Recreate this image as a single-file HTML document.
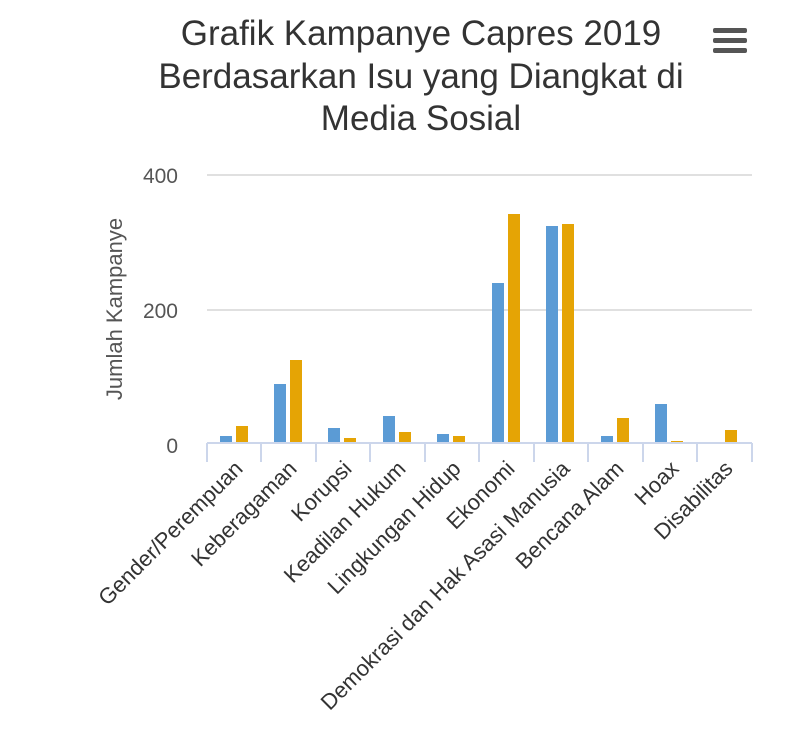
<!DOCTYPE html><html><head><style>body{margin:0;background:#fff}</style></head><body>
<svg width="787" height="734" xmlns="http://www.w3.org/2000/svg" font-family="Liberation Sans, sans-serif">
<g font-size="35" fill="#333" text-anchor="middle">
<text x="421" y="45">Grafik Kampanye Capres 2019</text>
<text x="421" y="88">Berdasarkan Isu yang Diangkat di</text>
<text x="421" y="130">Media Sosial</text></g>
<g fill="#555"><rect x="713" y="28" width="34" height="5" rx="2"/><rect x="713" y="38" width="34" height="5" rx="2"/><rect x="713" y="48" width="34" height="5" rx="2"/></g>
<g stroke="#e0e0e0" stroke-width="2"><line x1="207" y1="175" x2="752" y2="175"/><line x1="207" y1="310" x2="752" y2="310"/></g>
<g font-size="21" fill="#555" text-anchor="end"><text x="178" y="183">400</text><text x="178" y="318">200</text><text x="178" y="453">0</text></g>
<text transform="translate(122,309) rotate(-90)" font-size="22" fill="#555" text-anchor="middle">Jumlah Kampanye</text>
<g fill="#5b9bd5">
<rect x="220" y="436" width="12" height="7"/><rect x="274" y="384" width="12" height="59"/><rect x="328" y="428" width="12" height="15"/><rect x="383" y="416" width="12" height="27"/><rect x="437" y="434" width="12" height="9"/><rect x="492" y="283" width="12" height="160"/><rect x="546" y="226" width="12" height="217"/><rect x="601" y="436" width="12" height="7"/><rect x="655" y="404" width="12" height="39"/></g>
<g fill="#e5a405">
<rect x="236" y="426" width="12" height="17"/><rect x="290" y="360" width="12" height="83"/><rect x="344" y="438" width="12" height="5"/><rect x="399" y="432" width="12" height="11"/><rect x="453" y="436" width="12" height="7"/><rect x="508" y="214" width="12" height="229"/><rect x="562" y="224" width="12" height="219"/><rect x="617" y="418" width="12" height="25"/><rect x="671" y="441" width="12" height="2"/><rect x="725" y="430" width="12" height="13"/></g>
<g stroke="#ccd6eb" stroke-width="2"><line x1="207" y1="443" x2="752" y2="443"/>
<line x1="207" y1="443" x2="207" y2="462"/><line x1="261" y1="443" x2="261" y2="462"/><line x1="316" y1="443" x2="316" y2="462"/><line x1="370" y1="443" x2="370" y2="462"/><line x1="425" y1="443" x2="425" y2="462"/><line x1="479" y1="443" x2="479" y2="462"/><line x1="534" y1="443" x2="534" y2="462"/><line x1="588" y1="443" x2="588" y2="462"/><line x1="643" y1="443" x2="643" y2="462"/><line x1="697" y1="443" x2="697" y2="462"/><line x1="752" y1="443" x2="752" y2="462"/></g>
<g font-size="22" fill="#333" text-anchor="end">
<text transform="translate(244,470) rotate(-45)">Gender/Perempuan</text>
<text transform="translate(298,470) rotate(-45)">Keberagaman</text>
<text transform="translate(353,470) rotate(-45)">Korupsi</text>
<text transform="translate(407,470) rotate(-45)">Keadilan Hukum</text>
<text transform="translate(462,470) rotate(-45)">Lingkungan Hidup</text>
<text transform="translate(516,470) rotate(-45)">Ekonomi</text>
<text transform="translate(571,470) rotate(-45)">Demokrasi dan Hak Asasi Manusia</text>
<text transform="translate(625,470) rotate(-45)">Bencana Alam</text>
<text transform="translate(680,470) rotate(-45)">Hoax</text>
<text transform="translate(734,470) rotate(-45)">Disabilitas</text></g>
</svg></body></html>
